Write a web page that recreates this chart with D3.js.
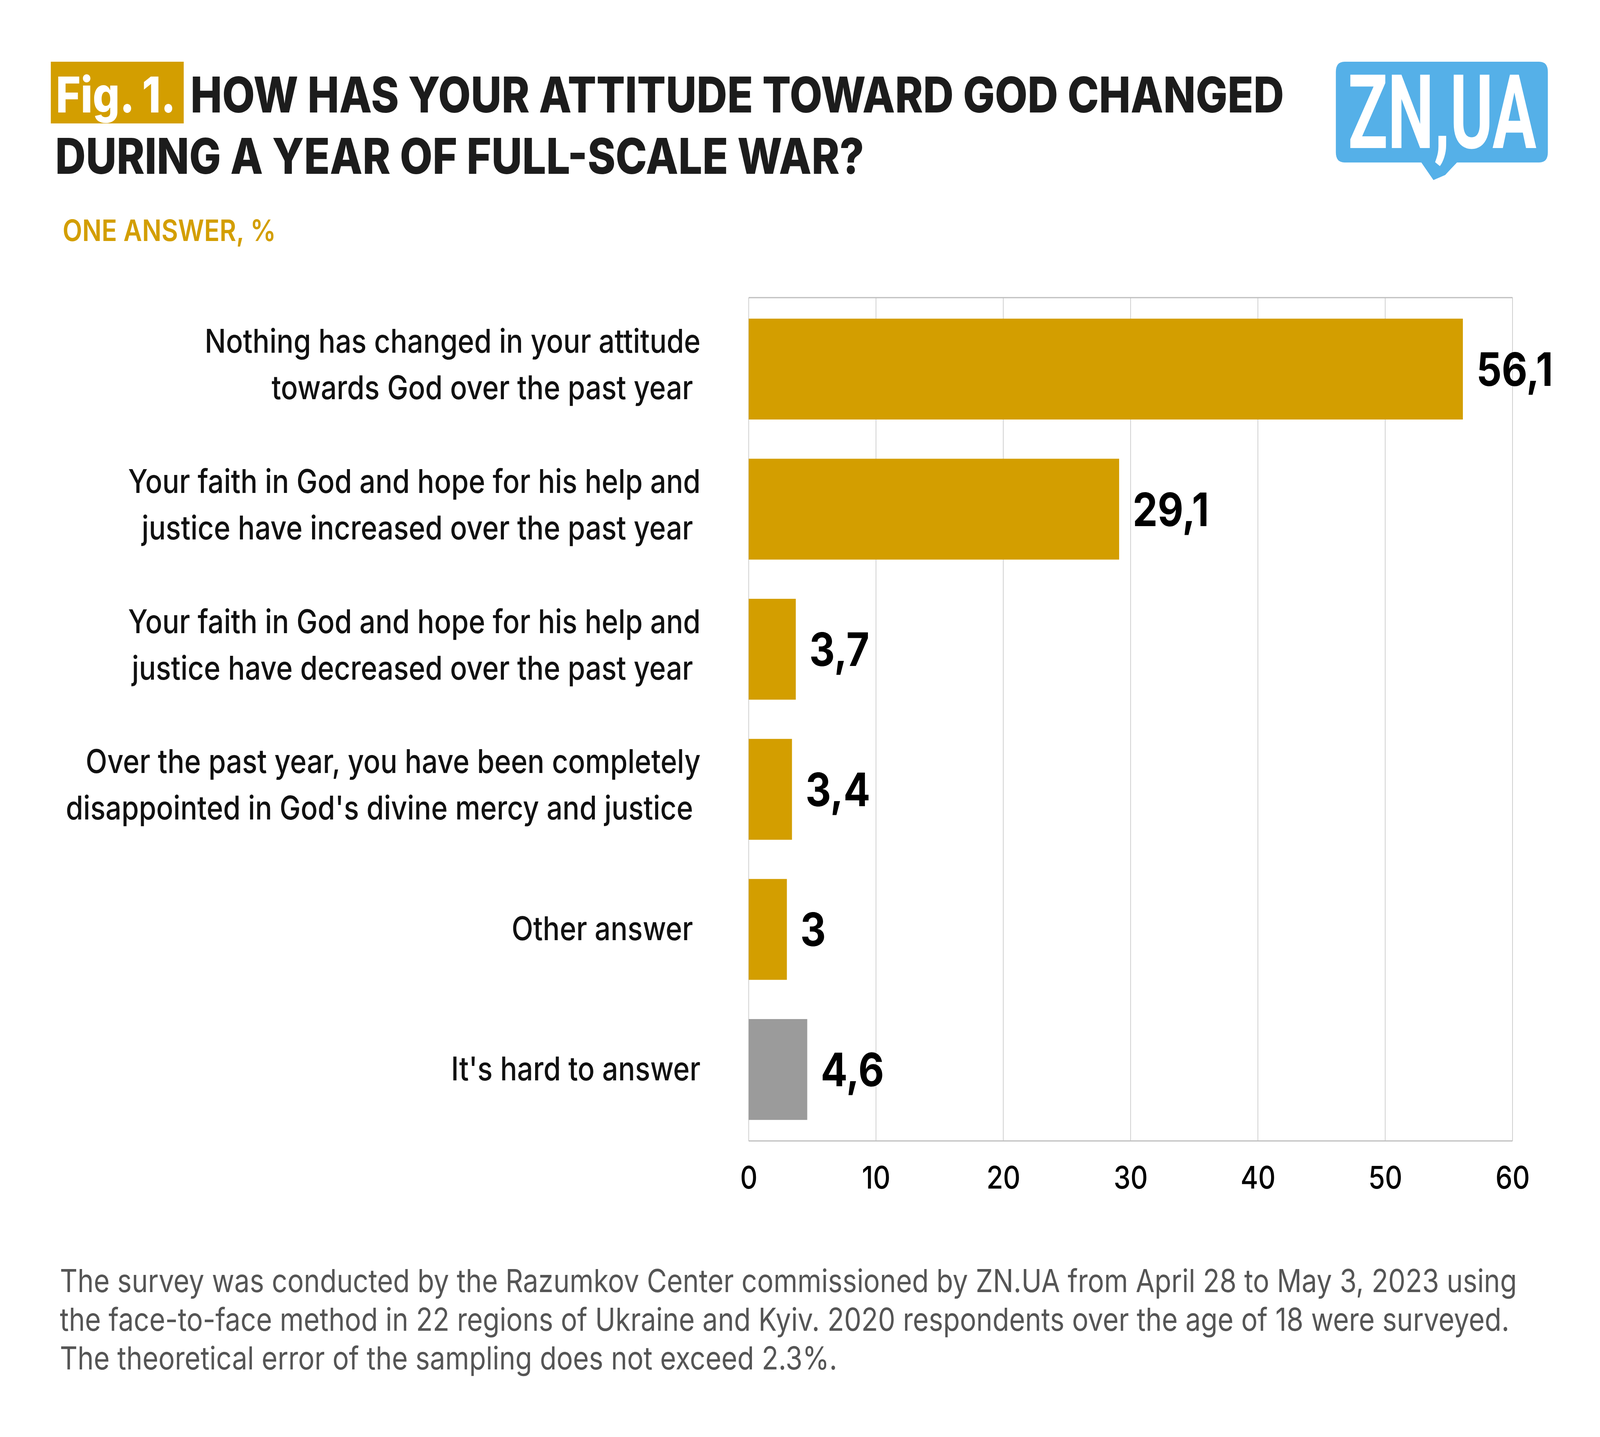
<!DOCTYPE html>
<html>
<head>
<meta charset="utf-8">
<script src="https://cdn.jsdelivr.net/npm/d3@7"></script>
<style>
  html, body { margin: 0; padding: 0; background: #fff; overflow: hidden; }
  svg { display: block; }
  text { white-space: pre; }
</style>
</head>
<body>
<div id="chart"></div>
<script>
// categories (split into the lines used in the picture)
const categories = [
  ["Nothing has changed in your attitude", "towards God over the past year "],
  ["Your faith in God and hope for his help and", "justice have increased over the past year "],
  ["Your faith in God and hope for his help and", "justice have decreased over the past year "],
  ["Over the past year, you have been completely", "disappointed in God's divine mercy and justice "],
  ["Other answer "],
  ["It's hard to answer"]
]
const values = [56.1, 29.1, 3.7, 3.4, 3, 4.6]
const xTicks = [0, 10, 20, 30, 40, 50, 60]

const titleLines = ["HOW HAS YOUR ATTITUDE TOWARD GOD CHANGED", "DURING A YEAR OF FULL-SCALE WAR?"]
const figLabel = "Fig. 1."
const subtitle = "ONE ANSWER, %"
const footnote = [
  "The survey was conducted by the Razumkov Center commissioned by ZN.UA from April 28 to May 3, 2023 using",
  "the face-to-face method in 22 regions of Ukraine and Kyiv. 2020 respondents over the age of 18 were surveyed.",
  "The theoretical error of the sampling does not exceed 2.3%."
]

// drawing is laid out on the 4755x3679 canvas of the original, then scaled to the window
const W = 4755, H = 3679
const GOLD = "#d39e00", GREY = "#9b9b9b", BLUE = "#55b0e8"
const FONT = "Inter, 'Noto Sans', sans-serif"

const svg = d3.select("#chart").append("svg")
  .attr("width", window.innerWidth)
  .attr("height", window.innerHeight)
  .attr("viewBox", `0 0 ${W} ${H}`)
  .attr("preserveAspectRatio", "none")
  .style("background", "#fff")

// shrink/grow a set of lines so the widest one gets the target width
function fit(sel, target) {
  let widest = 0
  sel.each(function() { widest = Math.max(widest, this.getComputedTextLength()) })
  const fs = parseFloat(sel.attr("font-size"))
  sel.attr("font-size", fs * target / widest)
}

// ---- header ----
svg.append("rect")
  .attr("x", 151).attr("y", 158)
  .attr("width", 395).attr("height", 158)
  .attr("fill", GOLD)

const fig = svg.append("text")
  .attr("x", 166).attr("y", 288)
  .attr("font-family", FONT).attr("font-weight", 800)
  .attr("font-size", 126)
  .attr("fill", "#fff")
  .text(figLabel)

const title = svg.append("g").selectAll("text")
  .data(titleLines)
  .join("text")
    .attr("x", (d, i) => i === 0 ? 566 : 164)
    .attr("y", (d, i) => i === 0 ? 288 : 445)
    .attr("font-family", FONT).attr("font-weight", 800)
    .attr("font-size", 126)
    .attr("fill", "#1c1c1c")
    .text(d => d)
fit(title.filter((d, i) => i === 0), 3250)
title.attr("font-size", title.filter((d, i) => i === 0).attr("font-size"))
fig.attr("font-size", title.attr("font-size"))

const sub = svg.append("text")
  .attr("x", 186).attr("y", 617)
  .attr("font-family", FONT).attr("font-weight", 600)
  .attr("font-size", 80)
  .attr("fill", GOLD)
  .text(subtitle)
fit(sub, 634)

// ---- logo ----
const logo = svg.append("g")
{
  const x0 = 3970, x1 = 4600, y0 = 158, y1 = 416, r = 26
  const p = d3.path()
  p.moveTo(x0 + r, y0)
  p.lineTo(x1 - r, y0)
  p.quadraticCurveTo(x1, y0, x1, y0 + r)
  p.lineTo(x1, y1 - r)
  p.quadraticCurveTo(x1, y1, x1 - r, y1)
  p.lineTo(4330, y1)
  p.quadraticCurveTo(4312, 432, 4295, 448)
  p.lineTo(4260, 461)
  p.lineTo(4224, y1)
  p.lineTo(x0 + r, y1)
  p.quadraticCurveTo(x0, y1, x0, y1 - r)
  p.lineTo(x0, y0 + r)
  p.quadraticCurveTo(x0, y0, x0 + r, y0)
  p.closePath()
  logo.append("path").attr("d", p.toString()).attr("fill", BLUE)
  const mark = logo.append("text")
    .attr("font-family", "Roboto, sans-serif").attr("font-weight", 700)
    .attr("font-size", 264)
    .attr("fill", "#fff")
    .text("ZN,UA")
  // condensed look: squeeze horizontally to the width of the original mark
  const len = mark.node().getComputedTextLength()
  mark.attr("transform", `translate(4006,379) scale(${560 / len},1)`)
}

// ---- chart ----
const plot = { left: 2225, right: 4495, top: 762, bottom: 2921 }

const x = d3.scaleLinear()
  .domain([0, 60])
  .range([plot.left, plot.right])

const y = d3.scaleBand()
  .domain(d3.range(categories.length))
  .range([plot.top, plot.bottom])
  .paddingInner(0.28)
  .paddingOuter(0.15)

const color = d3.scaleOrdinal()
  .domain(d3.range(categories.length))
  .range([GOLD, GOLD, GOLD, GOLD, GOLD, GREY])

const fmt = d3.formatLocale({ decimal: ",", thousands: " ", grouping: [3], currency: ["", ""] }).format(".1~f")

const grid = svg.append("g").attr("class", "grid")
grid.selectAll("line")
  .data(xTicks)
  .join("line")
    .attr("x1", d => x(d)).attr("x2", d => x(d))
    .attr("y1", plot.top).attr("y2", plot.bottom)
    .attr("stroke", "#c8c8c8")
    .attr("stroke-width", 2)
grid.selectAll("line.frame")
  .data([plot.top, plot.bottom])
  .join("line")
    .attr("class", "frame")
    .attr("x1", plot.left).attr("x2", plot.right)
    .attr("y1", d => d).attr("y2", d => d)
    .attr("stroke", "#bdbdbd")
    .attr("stroke-width", 3)

svg.append("g").selectAll("rect")
  .data(values)
  .join("rect")
    .attr("x", x(0))
    .attr("y", (d, i) => y(i))
    .attr("width", d => x(d) - x(0))
    .attr("height", y.bandwidth())
    .attr("fill", (d, i) => color(i))

svg.append("g").selectAll("text")
  .data(values)
  .join("text")
    .attr("x", d => x(d) + 40)
    .attr("y", (d, i) => y(i) + y.bandwidth() / 2 + 43)
    .attr("font-family", FONT).attr("font-weight", 700)
    .attr("font-size", 118)
    .attr("fill", "#000")
    .text(d => fmt(d))

// x axis tick labels
const xAxis = svg.append("g")
  .attr("transform", `translate(0,${plot.bottom})`)
  .call(d3.axisBottom(x).tickValues(xTicks).tickSize(0).tickPadding(122).tickFormat(d3.format("d")))
xAxis.select(".domain").remove()
xAxis.selectAll("text")
  .attr("font-family", FONT).attr("font-weight", 500)
  .attr("font-size", 80)
  .attr("fill", "#000")
  .attr("dy", null)

// category labels
const LH = 119
const labels = svg.append("g").selectAll("g")
  .data(categories)
  .join("g")
labels.each(function(lines, i) {
  const cy = y(i) + y.bandwidth() / 2
  const n = lines.length
  d3.select(this).selectAll("text")
    .data(lines)
    .join("text")
      .attr("x", 2082)
      .attr("y", (d, j) => cy + 28 + (j - (n - 1) / 2) * LH - (n > 1 ? 10 : 0))
      .attr("text-anchor", "end")
      .attr("font-family", FONT).attr("font-weight", 500)
      .attr("font-size", 76)
      .attr("fill", "#111")
      .text(d => d)
})
const catText = labels.selectAll("text")
{
  let target = null
  catText.filter(d => d === categories[3][0]).each(function() { target = this.getComputedTextLength() })
  catText.attr("font-size", 76 * 1827 / target)
}

// ---- footnote ----
const foot = svg.append("g").selectAll("text")
  .data(footnote)
  .join("text")
    .attr("x", 178)
    .attr("y", (d, i) => 3308 + i * 99)
    .attr("font-family", FONT).attr("font-weight", 400)
    .attr("font-size", 76)
    .attr("fill", "#555")
    .text(d => d)
fit(foot.filter((d, i) => i === 0), 4329)
foot.attr("font-size", foot.filter((d, i) => i === 0).attr("font-size"))
</script>
</body>
</html>
